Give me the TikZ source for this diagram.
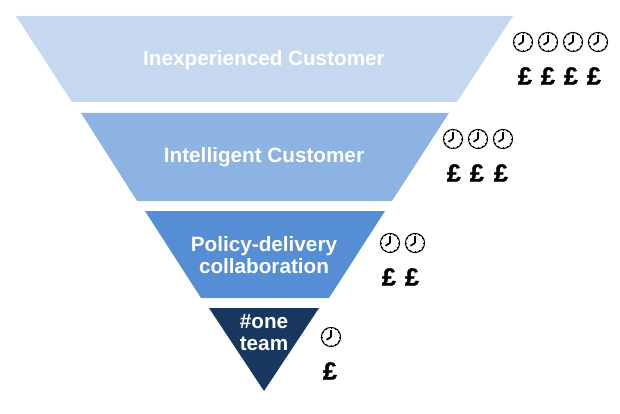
\documentclass[tikz,border=0pt]{standalone}
\usepackage{fontspec}
\setmainfont{Liberation Sans}
\newfontfamily\heavyfont[FakeBold=1.6]{Liberation Sans Bold}
\definecolor{tierA}{RGB}{198,215,240}
\definecolor{tierB}{RGB}{141,179,226}
\definecolor{tierC}{RGB}{85,142,213}
\definecolor{tierD}{RGB}{23,55,94}
\tikzset{
  x=1pt,y=-1pt,
  tier/.style={draw=none},
  tierlabel/.style={text=white,font=\bfseries\fontsize{20.7}{22}\selectfont,align=center,inner sep=0pt},
  poundsign/.style={text=black,font=\heavyfont\fontsize{25}{25}\selectfont,inner sep=0pt},
  clockpic/.pic={
    \draw[line width=1pt,fill=white] (0,0) circle (9.6);
    \foreach \a in {0,30,...,330}{\draw[line width=.7pt] (\a:8) -- (\a:9.6);}
    \draw[line width=1.2pt] (0,0) -- (0,-7);
    \draw[line width=1.7pt] (0,0) -- (-4.5,2.8);
  }
}
\begin{document}
\begin{tikzpicture}
\useasboundingbox (0,0) rectangle (620,414);
\fill[tierA,tier] (16,16) -- (513,16) -- (457,102) -- (72,102) -- cycle;
\fill[tierB,tier] (81,113) -- (449,113) -- (392,201) -- (137,201) -- cycle;
\fill[tierC,tier] (145,211) -- (385,211) -- (329,298) -- (201,298) -- cycle;
\fill[tierD,tier] (209,308) -- (319,308) -- (264,391) -- cycle;
\node[tierlabel] (l1) at (264,60) {Inexperienced Customer};
\node[tierlabel] (l2) at (264,157.5) {Intelligent Customer};
\node[tierlabel] (l3) at (264,255) {Policy-delivery\\collaboration};
\node[tierlabel] (l4) at (264,333) {\#one\\team};
\foreach \cx/\cy in {523/42,548/42,573/42,598/42,453/139,478/139,503/139,390/243,415/243,331/337}
  \pic at (\cx,\cy) {clockpic};
\foreach \px/\py/\nm in {525/76/p1,548/76/p2,571/76/p3,594/76/p4,454/173/p5,477/173/p6,501/173/p7,389/277/p8,412/277/p9,330/371/p10}
  \node[poundsign] (\nm) at (\px,\py) {£};
\end{tikzpicture}
\end{document}
